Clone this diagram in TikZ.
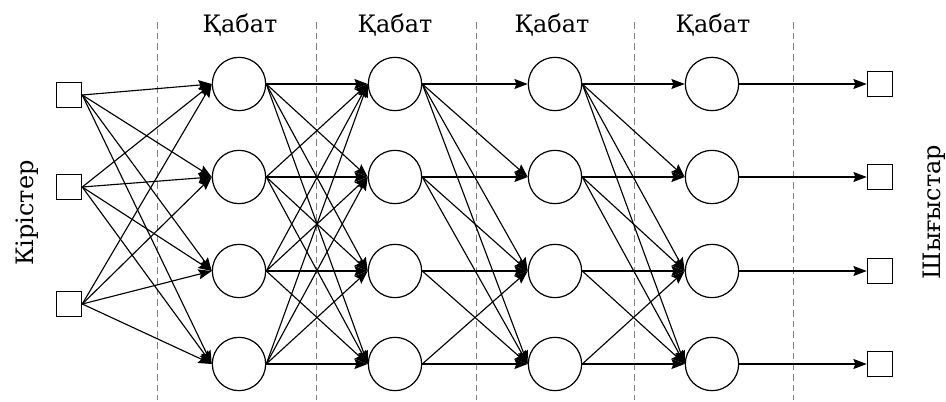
\documentclass[tikz,border=0pt]{standalone}
\usepackage{fontspec}
\setmainfont{DejaVu Serif}
\usetikzlibrary{arrows.meta,positioning}

\begin{document}
\begin{tikzpicture}[x=0.75pt,y=-0.75pt,>={Stealth[length=10pt,width=7.5pt,inset=1.5pt]},
  neuron/.style={circle,draw,fill=white,line width=0.9pt,minimum size=40pt,inner sep=0pt},
  port/.style={rectangle,draw,fill=white,line width=0.9pt,minimum size=19pt,inner sep=0pt},
  link/.style={->,line width=0.85pt},
  divider/.style={gray,dash pattern=on 5pt off 3pt,line width=0.7pt},
  caption/.style={font=\fontsize{18}{21}\selectfont,anchor=base}]
   \useasboundingbox (0,0) rectangle (946,402);
   % dashed dividers between the columns
   \foreach \x in {157,316,476,634,793}
     \draw[divider] (\x,22) -- (\x,400);
   % texts
   \node[caption] (k1) at (240,33) {Қабат};
   \node[caption] (k2) at (395,33) {Қабат};
   \node[caption] (k3) at (552,33) {Қабат};
   \node[caption] (k4) at (713,33) {Қабат};
   \node[caption,rotate=90] (inlabel)  at (33,213)  {Кірістер};
   \node[caption,rotate=90] (outlabel) at (940,212) {Шығыстар};
   % inputs, layers and outputs
   \node[port] (in1) at (69,95)  {};
   \node[port] (in2) at (69,187) {};
   \node[port] (in3) at (69,304) {};
   \foreach \c/\x in {1/239,2/395,3/555,4/712}
     \foreach \r/\y in {1/84,2/177,3/271,4/364}
       \node[neuron] (n\c\r) at (\x,\y) {};
   \foreach \r/\y in {1/84,2/177,3/271,4/364}
     \node[port] (out\r) at (880,\y) {};
   % connections
   \foreach \i in {1,2,3}
     \foreach \j in {1,...,4}
       \draw[link] (in\i.east) -- (n1\j.west);
   \foreach \i in {1,...,4}
     \foreach \j in {1,...,4}
       \draw[link] (n1\i.east) -- (n2\j.west);
   \foreach \c/\d in {2/3,3/4}
     \foreach \i/\j in {1/1,1/2,1/3,1/4,2/2,2/3,2/4,3/3,3/4,4/3,4/4}
       \draw[link] (n\c\i.east) -- (n\d\j.west);
   \foreach \r in {1,...,4}
     \draw[link] (n4\r.east) -- (out\r.west);
\end{tikzpicture}
\end{document}
